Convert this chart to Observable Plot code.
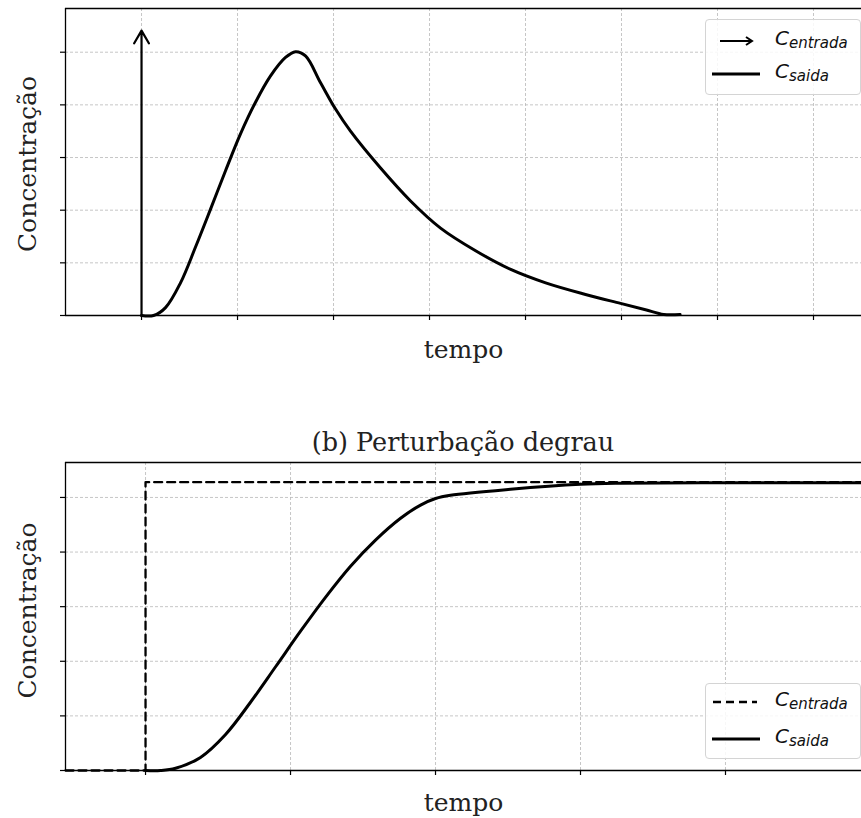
<!DOCTYPE html>
<html><head><meta charset="utf-8">
<script src="https://cdn.jsdelivr.net/npm/d3@7"></script>
<script src="https://cdn.jsdelivr.net/npm/@observablehq/plot@0.6"></script>
<style>
body{margin:0;background:#fff;overflow:hidden;width:861px;height:818px;position:relative;}
.panel{position:absolute;left:0;}
.title{position:absolute;left:65px;width:796px;text-align:center;font-family:"DejaVu Serif";font-size:25.5px;line-height:30px;color:#222;white-space:nowrap;}
.legend{position:absolute;left:705px;width:154px;height:74px;border:1px solid #d4d4d4;border-radius:4px;background:rgba(255,255,255,0.85);font-family:"DejaVu Sans";}
.sym{position:absolute;left:0;width:60px;height:20px;}
.lab{position:absolute;left:69px;font-size:20px;line-height:24px;font-style:italic;color:#111;white-space:nowrap;}
.lab sub{font-size:15px;position:relative;top:3px;vertical-align:baseline;}
</style>
</head><body>
<div id="root"></div>
<script>
// ---- data (tick units) ----
const pulseTitle = "(a) Perturbação pulso";
const stepTitle = "(b) Perturbação degrau";
const xLabel = "tempo";
const yLabel = "Concentração";

const pulseXTicks = [0, 1, 2, 3, 4, 5, 6, 7];
const pulseYTicks = [0, 1, 2, 3, 4, 5];
const pulseXDomain = [-0.792, 7.5];
const pulseYDomain = [0, 5.83];

const pulseInT = [0, 0];
const pulseInC = [0, 5.41];

const pulseOutT = [0, 0.125, 0.25, 0.406, 0.5625, 0.719, 0.875, 1.031, 1.1875, 1.344, 1.5, 1.604, 1.708, 1.865, 2.021, 2.177, 2.49, 2.80, 3.115, 3.48, 3.84, 4.21, 4.625, 4.99, 5.25, 5.44, 5.61];
const pulseOutC = [0, 0, 0.15, 0.62, 1.30, 2.02, 2.75, 3.45, 4.05, 4.55, 4.90, 5.01, 4.93, 4.42, 3.92, 3.50, 2.80, 2.18, 1.66, 1.23, 0.88, 0.62, 0.40, 0.23, 0.11, 0.02, 0.02];

const stepXTicks = [0, 1, 2, 3, 4];
const stepYTicks = [0, 1, 2, 3, 4, 5];
const stepXDomain = [-0.552, 4.938];
const stepYDomain = [0, 5.64];

const stepInT = [-0.552, 0, 0, 5.0];
const stepInC = [0, 0, 5.28, 5.28];

const stepOutT = [0, 0.103, 0.207, 0.379, 0.552, 0.724, 0.897, 1.069, 1.241, 1.414, 1.586, 1.759, 1.897, 2.0, 2.103, 2.517, 3.0, 3.28, 3.83, 5.0];
const stepOutC = [0, 0, 0.04, 0.24, 0.66, 1.25, 1.90, 2.55, 3.17, 3.74, 4.22, 4.62, 4.86, 4.98, 5.04, 5.15, 5.24, 5.26, 5.27, 5.27];

const legendLabels = [["C", "entrada"], ["C", "saida"]];

// ---- helpers ----
const zip = (T, C) => T.map((t, i) => ({t, c: C[i]}));
const root = document.getElementById("root");
const gridStyle = {stroke: "#b8b8b8", strokeOpacity: 1, strokeWidth: 0.8, strokeDasharray: "3,2"};

function panel({top, height, mt, mb, xDomain, yDomain, xTicks, yTicks, marks, xLabDy, yLabDy}) {
  const svg = Plot.plot({
    width: 861, height,
    marginLeft: 65, marginRight: 0, marginTop: mt, marginBottom: mb,
    style: {fontFamily: "DejaVu Serif", fontSize: "25px", background: "transparent", overflow: "visible"},
    x: {domain: xDomain},
    y: {domain: yDomain},
    marks: [
      Plot.gridX(xTicks, gridStyle),
      Plot.gridY(yTicks, gridStyle),
      ...marks,
      Plot.ruleX([xDomain[0]], {stroke: "#000", strokeWidth: 1.3}),
      Plot.ruleY([yDomain[0], yDomain[1]], {stroke: "#000", strokeWidth: 1.3}),
      Plot.axisX(xTicks, {tickSize: 5, tickFormat: () => "", label: null, strokeWidth: 1.2}),
      Plot.axisY(yTicks, {tickSize: 5, tickFormat: () => "", label: null, strokeWidth: 1.2}),
      Plot.text([xLabel], {frameAnchor: "bottom", dy: xLabDy, text: d => d, fill: "#222", fontSize: 25, textAnchor: "middle"}),
      Plot.text([yLabel], {frameAnchor: "left", dx: -38, dy: yLabDy, rotate: -90, text: d => d, fill: "#222", fontSize: 25, textAnchor: "middle"})
    ]
  });
  svg.classList.add("panel");
  svg.style.top = top + "px";
  root.appendChild(svg);
}

// Top panel: pulse
panel({
  top: 0, height: 380, mt: 8, mb: 65,
  xDomain: pulseXDomain, yDomain: pulseYDomain, xTicks: pulseXTicks, yTicks: pulseYTicks,
  xLabDy: 42, yLabDy: 2,
  marks: [
    Plot.arrow([{x1: pulseInT[0], y1: pulseInC[0], x2: pulseInT[1], y2: pulseInC[1]}],
      {x1: "x1", y1: "y1", x2: "x2", y2: "y2", stroke: "#000", strokeWidth: 2.2, headLength: 10, headAngle: 60}),
    Plot.line(zip(pulseOutT, pulseOutC), {x: "t", y: "c", stroke: "#000", strokeWidth: 3, curve: "catmull-rom"})
  ]
});

// Bottom panel: step
panel({
  top: 455, height: 363, mt: 7, mb: 48,
  xDomain: stepXDomain, yDomain: stepYDomain, xTicks: stepXTicks, yTicks: stepYTicks,
  xLabDy: 40, yLabDy: -6,
  marks: [
    Plot.line(zip(stepInT, stepInC), {x: "t", y: "c", stroke: "#000", strokeWidth: 2.3, strokeDasharray: "8,5"}),
    Plot.line(zip(stepOutT, stepOutC), {x: "t", y: "c", stroke: "#000", strokeWidth: 3, curve: "catmull-rom"})
  ]
});

// Titles
function title(text, top) {
  const d = document.createElement("div");
  d.className = "title"; d.style.top = top + "px"; d.textContent = text;
  root.appendChild(d);
}
title(pulseTitle, -29);
title(stepTitle, 427);

// Legends
function legend(top, entryYs, kinds) {
  const box = document.createElement("div");
  box.className = "legend"; box.style.top = top + "px";
  kinds.forEach((kind, i) => {
    const y = entryYs[i];
    let sym;
    if (kind === "arrow") sym = `<line x1="14" y1="10" x2="46" y2="10" stroke="#000" stroke-width="2"/><path d="M40,6 L46,10 L40,14" fill="none" stroke="#000" stroke-width="2"/>`;
    else if (kind === "dash") sym = `<line x1="7" y1="10" x2="51" y2="10" stroke="#000" stroke-width="2.3" stroke-dasharray="8,5"/>`;
    else sym = `<line x1="6" y1="10" x2="54" y2="10" stroke="#000" stroke-width="3"/>`;
    const s = document.createElement("div");
    s.className = "sym"; s.style.top = (y - 10) + "px";
    s.innerHTML = `<svg width="60" height="20">${sym}</svg>`;
    box.appendChild(s);
    const l = document.createElement("div");
    l.className = "lab"; l.style.top = (y - 15) + "px";
    l.innerHTML = `${legendLabels[i][0]}<sub>${legendLabels[i][1]}</sub>`;
    box.appendChild(l);
  });
  root.appendChild(box);
}
legend(19, [21, 54], ["arrow", "solid"]);
legend(683, [18, 55], ["dash", "solid"]);
</script>
</body></html>
